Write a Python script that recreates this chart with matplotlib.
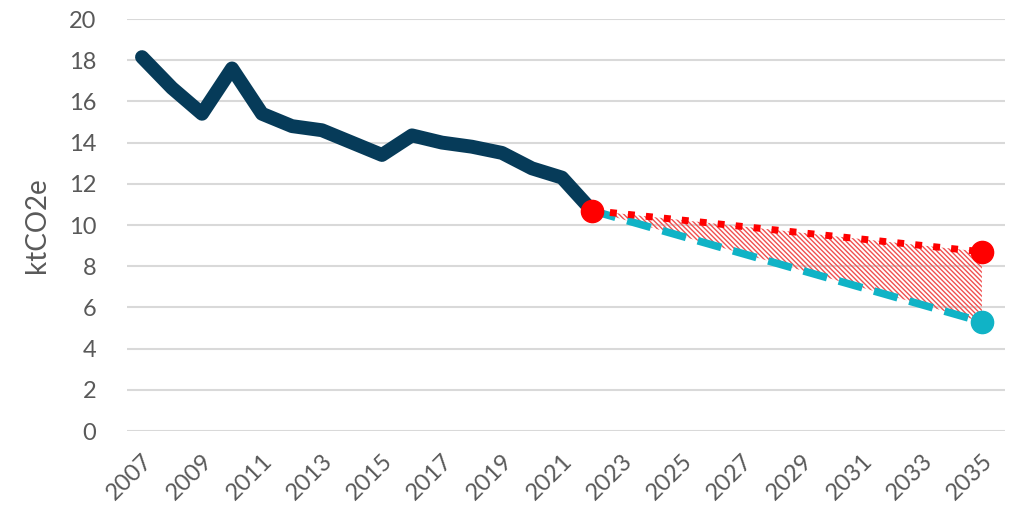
import numpy as np
import matplotlib.pyplot as plt

years_hist = [2007, 2008, 2009, 2010, 2011, 2012, 2013, 2014, 2015, 2016,
              2017, 2018, 2019, 2020, 2021, 2022]
emissions = [18.15, 16.65, 15.4, 17.6, 15.4, 14.8, 14.6, 14.0, 13.4, 14.35,
             14.0, 13.8, 13.5, 12.75, 12.3, 10.7]

years_proj = [2022, 2035]
proj_high = [10.7, 8.7]
proj_low = [10.7, 5.3]

xticks = list(range(2007, 2036, 2))
yticks = list(range(0, 21, 2))

navy = '#063B59'
cyan = '#10B3C6'
red = '#FF0000'
grey = '#595959'

plt.rcParams['font.family'] = ['Lato', 'DejaVu Sans']
plt.rcParams['hatch.linewidth'] = 1.0

fig = plt.figure(figsize=(10.13, 5.2), dpi=100)
ax = fig.add_axes([127 / 1013, 1 - 431 / 520, (1005 - 127) / 1013, (431 - 19) / 520])

ax.fill_between(years_proj, proj_low, proj_high, facecolor='none',
                edgecolor='#F05050', hatch='\\' * 7, linewidth=0, zorder=1)

ax.plot(years_hist, emissions, color=navy, lw=10, solid_joinstyle='round',
        solid_capstyle='round', zorder=3)
ax.plot(years_proj, proj_low, color=cyan, lw=5.5, ls=(0, (3.2, 1.6)),
        marker='o', markersize=16, markevery=[1], zorder=4)
ax.plot(years_proj, proj_high, color=red, lw=5, ls=(0, (1, 1.6)),
        marker='o', markersize=16, zorder=5)

ax.set_xlim(2006.5, 2035.77)
ax.set_ylim(0, 20)
ax.set_xticks(xticks)
ax.set_yticks(yticks)
ax.set_xticklabels([str(y) for y in xticks], rotation=45, ha='right',
                   rotation_mode='anchor')
ax.tick_params(length=0, labelsize=17, colors=grey)
ax.tick_params(axis='y', pad=22)
ax.tick_params(axis='x', pad=14)
ax.grid(axis='y', color='#D9D9D9', lw=1.5)
ax.set_axisbelow(True)
for s in ax.spines.values():
    s.set_visible(False)
ax.set_ylabel('ktCO2e', fontsize=20, color=grey, labelpad=14)

fig.savefig('out.png', dpi=100)
